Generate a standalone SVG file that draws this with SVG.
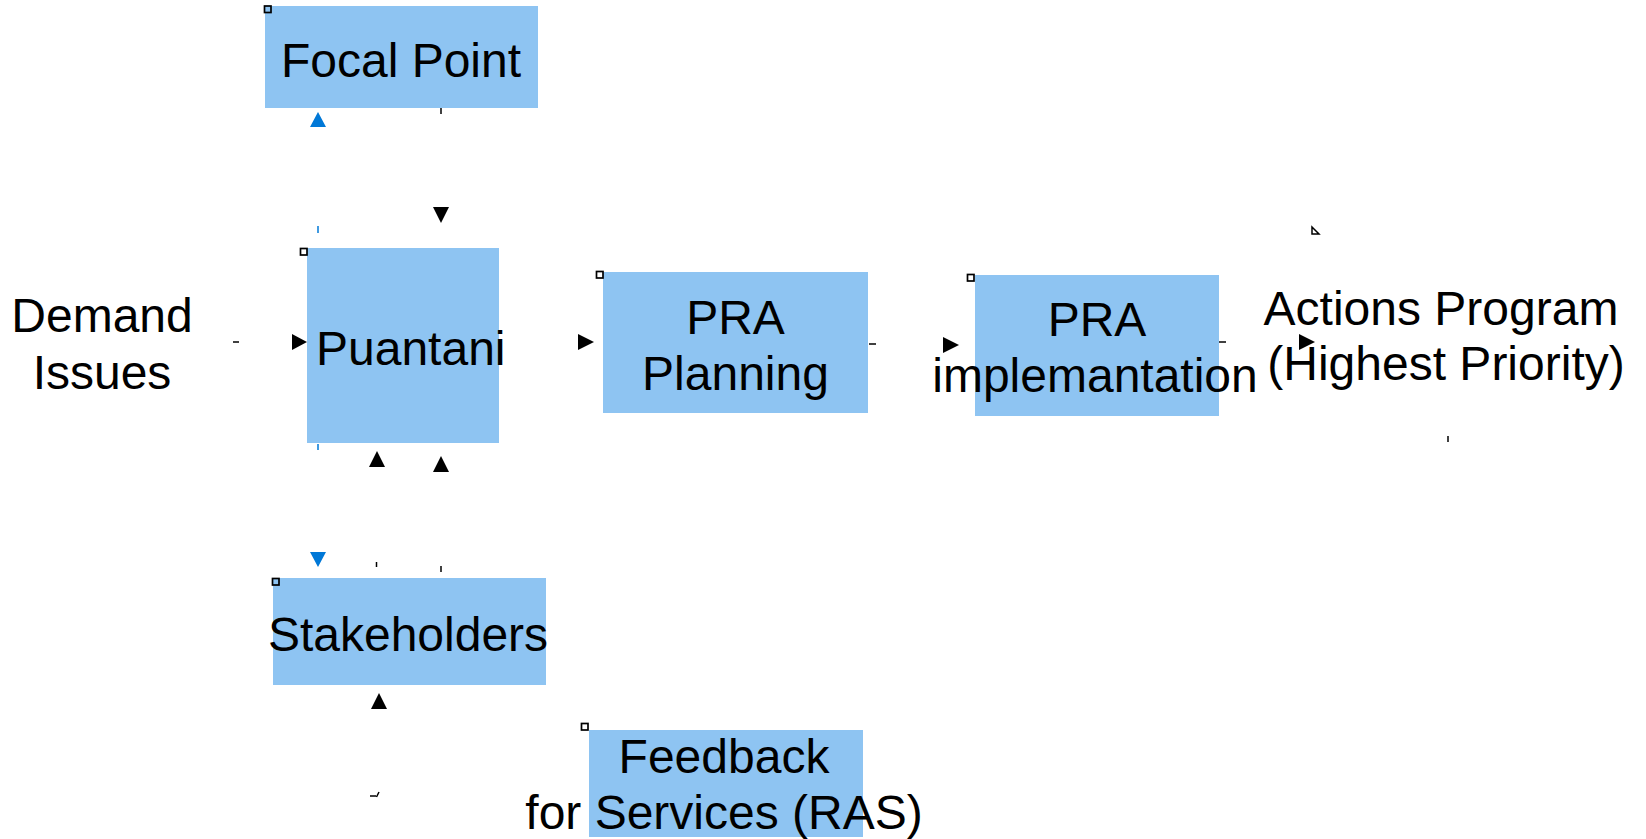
<svg xmlns="http://www.w3.org/2000/svg" width="1646" height="839" viewBox="0 0 1646 839">
<style>
.box{fill:#8EC4F2;stroke:none}
.lbl{font-family:"Liberation Sans",Arial,sans-serif;font-size:48px;fill:#000;text-anchor:middle}
.handle{fill:none;stroke:#000;stroke-width:1.7}
.tk{stroke:#000;stroke-width:1.5;fill:none}
.tkb{stroke:#0078D7;stroke-width:1.5;fill:none}
.ah{fill:#000}
.ahb{fill:#0078D7}
</style>
<rect width="1646" height="839" fill="#fff"/>
<g id="connectors">
<polygon class="ahb" points="318,112 310,127 326,127"/>
<polygon class="ah" points="441,223 433,207 449,207"/>
<polygon class="ah" points="307,342 292,334 292,350"/>
<polygon class="ah" points="594,342 578,334 578,350"/>
<polygon class="ah" points="959,345 943,337 943,353"/>
<polygon class="ah" points="1315,342 1299,334 1299,350"/>
<polygon class="ah" points="377,451 369,467 385,467"/>
<polygon class="ah" points="441,456 433,472 449,472"/>
<polygon class="ahb" points="318,567 310,552 326,552"/>
<polygon class="ah" points="379,693 371,709 387,709"/>
<line class="tk" x1="441" y1="108" x2="441" y2="114"/>
<line class="tkb" x1="318" y1="226" x2="318" y2="233"/>
<line class="tk" x1="233" y1="342" x2="239" y2="342"/>
<line class="tk" x1="869" y1="344" x2="876" y2="344"/>
<line class="tk" x1="1219" y1="342" x2="1226" y2="342"/>
<line class="tkb" x1="318" y1="444" x2="318" y2="450"/>
<line class="tk" x1="376.5" y1="562" x2="376.5" y2="567"/>
<line class="tk" x1="441" y1="566" x2="441" y2="572"/>
<line class="tk" x1="1448" y1="436" x2="1448" y2="442"/>
<path class="tk" d="M370,796 H376 M376.5,797 L379,792"/>
<polygon class="tk" points="1312,227 1312,234 1319,234"/>
</g>
<g id="focal-point">
<rect class="box" x="265" y="6" width="273" height="102"/>
<rect class="handle" x="264.5" y="6" width="6.5" height="6.5"/>
<text class="lbl" x="401" y="77">Focal Point</text>
</g>
<g id="demand-issues">
<text class="lbl" x="102" y="332">Demand</text>
<text class="lbl" x="102" y="389">Issues</text>
</g>
<g id="puantani">
<rect class="box" x="307" y="248" width="192" height="195"/>
<rect class="handle" x="300.5" y="248.5" width="6.5" height="6.5"/>
<text class="lbl" x="316" y="365" style="text-anchor:start">Puantani</text>
</g>
<g id="pra-planning">
<rect class="box" x="603" y="272" width="265" height="141"/>
<rect class="handle" x="596.5" y="271.5" width="6.5" height="6.5"/>
<text class="lbl" x="735.5" y="334">PRA</text>
<text class="lbl" x="735.5" y="390">Planning</text>
</g>
<g id="pra-implementation">
<rect class="box" x="975" y="275" width="244" height="141"/>
<rect class="handle" x="967.5" y="274.5" width="6.5" height="6.5"/>
<text class="lbl" x="1097" y="336">PRA</text>
<text class="lbl" x="1095" y="392">implemantation</text>
</g>
<g id="actions-program">
<text class="lbl" x="1441" y="325">Actions Program</text>
<text class="lbl" x="1446" y="380">(Highest Priority)</text>
</g>
<g id="stakeholders">
<rect class="box" x="273" y="578" width="273" height="107"/>
<rect class="handle" x="272.5" y="578.5" width="6.5" height="6.5"/>
<text class="lbl" x="408" y="651">Stakeholders</text>
</g>
<g id="feedback">
<rect class="box" x="589" y="730" width="274" height="107"/>
<rect class="handle" x="581.5" y="723.5" width="6.5" height="6.5"/>
<text class="lbl" x="724" y="773">Feedback</text>
<text class="lbl" x="724" y="829">for Services (RAS)</text>
</g>
</svg>
